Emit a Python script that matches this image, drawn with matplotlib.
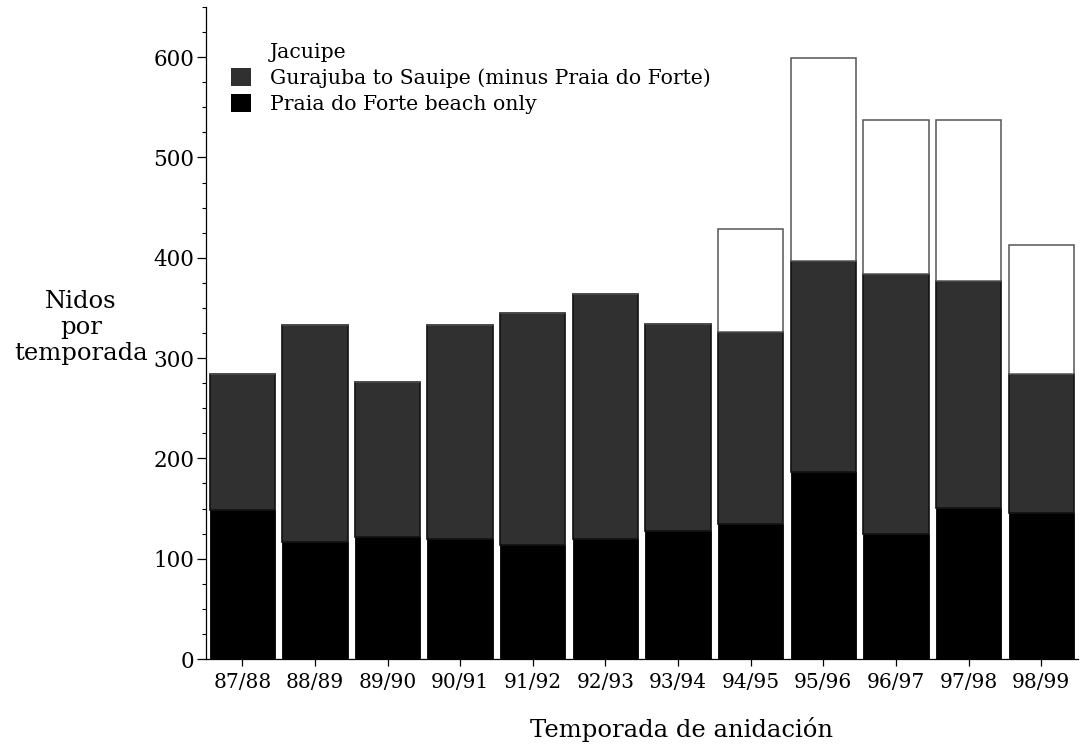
import numpy as np
import matplotlib
matplotlib.use("Agg")
import matplotlib.pyplot as plt
from matplotlib.patches import Patch
from matplotlib.ticker import MultipleLocator

plt.rcParams['font.family'] = ['DejaVu Serif']

# nidos por temporada, por tramo de playa
temporadas = ["87/88", "88/89", "89/90", "90/91", "91/92", "92/93",
              "93/94", "94/95", "95/96", "96/97", "97/98", "98/99"]
praia_forte = [149, 117, 122, 120, 114, 120, 128, 135, 186, 125, 151, 146]
gurajuba = [135, 216, 154, 213, 231, 244, 206, 191, 211, 259, 226, 138]
jacuipe = [0, 0, 0, 0, 0, 0, 0, 103, 202, 153, 160, 129]

lbl_jac = "Jacuipe"
lbl_gur = "Gurajuba to Sauipe (minus Praia do Forte)"
lbl_pf = "Praia do Forte beach only"

fig = plt.figure(figsize=(10.8, 7.44), dpi=100)
ax = fig.add_axes([0.1907, 0.1142, 0.807, 0.8764])

x = np.arange(len(temporadas))
w = 0.9
base2 = np.array(praia_forte)
base3 = base2 + np.array(gurajuba)

ax.bar(x, praia_forte, w, color="black", edgecolor="black", linewidth=0.6)
ax.bar(x, gurajuba, w, bottom=base2, color="#303030",
       edgecolor="#111111", linewidth=1.2)
ax.bar(x, jacuipe, w, bottom=base3, color="white",
       edgecolor="#555555", linewidth=1.1)

ax.set_xlim(-0.5, 11.5)
ax.set_ylim(0, 650)
ax.set_xticks(x)
ax.set_xticklabels(temporadas, fontsize=14.5)
ax.set_yticks(np.arange(0, 601, 100))
ax.yaxis.set_minor_locator(MultipleLocator(25))
ax.tick_params(axis="y", which="major", length=6.5, width=0.9, labelsize=15.5, pad=2)
ax.tick_params(axis="y", which="minor", length=3, width=0.8)
ax.tick_params(axis="x", length=5, width=0.9, pad=5)

for s in ["top", "right"]:
    ax.spines[s].set_visible(False)
for s in ["left", "bottom"]:
    ax.spines[s].set_linewidth(0.9)

fig.text(0.075, 0.56, "Nidos\npor\ntemporada", ha="center", va="center",
         fontsize=17.5, linespacing=1.15)
fig.text(0.631, 0.0094, "Temporada de anidación", ha="center", va="baseline",
         fontsize=17.5)

handles = [Patch(facecolor="white", edgecolor="none"),
           Patch(facecolor="#303030", edgecolor="none"),
           Patch(facecolor="black", edgecolor="none")]
ax.legend(handles, [lbl_jac, lbl_gur, lbl_pf], loc="upper left",
          bbox_to_anchor=(0.214, 0.943), bbox_transform=fig.transFigure,
          frameon=False, fontsize=14.7, handlelength=0.95, handleheight=0.95,
          handletextpad=0.95, labelspacing=0.3, borderaxespad=0,
          borderpad=0)

fig.savefig("out.png", dpi=100)
